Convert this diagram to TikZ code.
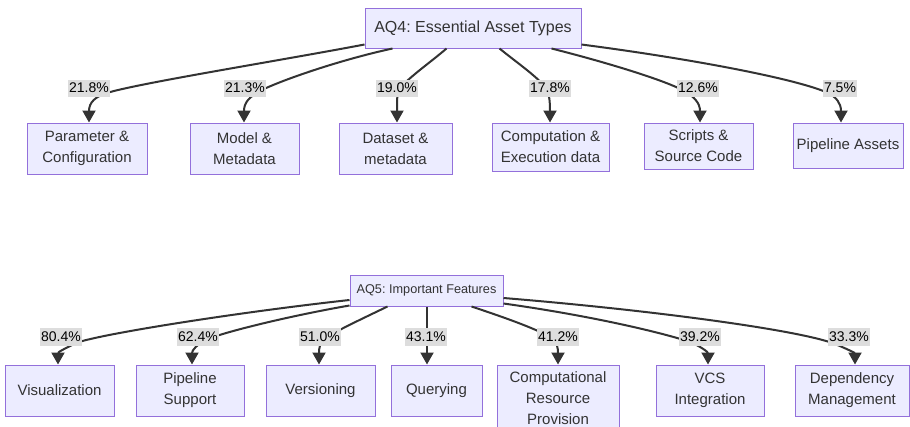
\documentclass[tikz,border=0pt]{standalone}
\usepackage{fontspec}
\setmainfont{Liberation Sans}
\frenchspacing
\usetikzlibrary{arrows.meta,calc}
\definecolor{nodefill}{HTML}{ECECFF}
\definecolor{nodeline}{HTML}{9370DB}
\definecolor{txt}{HTML}{333333}
\definecolor{edgec}{HTML}{333333}
\definecolor{labfill}{HTML}{DDDDDD}
\tikzset{
  box/.style={draw=nodeline, fill=nodefill, line width=1pt, text=txt, align=center,
    font=\fontsize{15}{21}\selectfont, inner sep=0pt},
  edge/.style={draw=edgec, line width=2pt, -{Triangle[length=12pt,width=13pt]}},
  lab/.style={fill=labfill, text=black, font=\fontsize{14}{16}\selectfont,
    inner xsep=1pt, inner ysep=0pt, minimum height=17pt}
}
\begin{document}
\begin{tikzpicture}[x=1pt,y=-1pt]
\clip (0,0) rectangle (910,426);
\fill[white] (0,0) rectangle (910,426);
% ---------- AQ4 ----------
\node[box, minimum width=216pt, minimum height=40pt, font=\fontsize{16}{20}\selectfont] (r4) at (473,28) {AQ4: Essential Asset Types};
\node[box, minimum width=120pt, minimum height=51pt] (p1) at (87,148.5) {Parameter \&\\Configuration};
\node[box, minimum width=109pt, minimum height=51pt] (p2) at (244.5,148.5) {Model \&\\Metadata};
\node[box, minimum width=113pt, minimum height=51pt] (p3) at (395.5,148.5) {Dataset \&\\metadata};
\node[box, minimum width=117pt, minimum height=48pt] (p4) at (550.5,147) {Computation \&\\Execution data};
\node[box, minimum width=109pt, minimum height=46pt] (p5) at (698.5,146) {Scripts \&\\Source Code};
\node[box, minimum width=110pt, minimum height=45pt] (p6) at (848,145.5) {Pipeline Assets};

\draw[edge] ($(r4.south west)+(0,-4)$) .. controls (278,61) and (127,85) .. (104,94)
  .. controls (96,97) and (89,102) .. (p1.north -| 89,0);
\draw[edge] ($(r4.south west)+(28,0)$) .. controls (335,61) and (274,83) .. (258,92)
  .. controls (250,97) and (244,102) .. (p2.north -| 244,0);
\draw[edge] ($(r4.south west)+(82,0)$) .. controls (431,62) and (405,80) .. (399,90)
  .. controls (397,94) and (397,100) .. (p3.north -| 397,0);
\draw[edge] ($(r4.south west)+(135,0)$) .. controls (516,62) and (542,80) .. (547,90)
  .. controls (549,95) and (550,100) .. (p4.north -| 550,0);
\draw[edge] ($(r4.south west)+(187,0)$) .. controls (605,62) and (668,81) .. (686,92)
  .. controls (694,97) and (700,103) .. (p5.north -| 700,0);
\draw[edge] ($(r4.south east)+(0,-4)$) .. controls (700,60) and (800,80) .. (828,93)
  .. controls (836,97) and (841,103) .. (p6.north -| 841,0);

\node[lab] (l1) at (89,88) {21.8\%};
\node[lab] (l2) at (245,88) {21.3\%};
\node[lab] (l3) at (397,88) {19.0\%};
\node[lab] (l4) at (550,88) {17.8\%};
\node[lab] (l5) at (698,88) {12.6\%};
\node[lab] (l6) at (840,88) {7.5\%};

% ---------- AQ5 ----------
\node[box, minimum width=153pt, minimum height=31pt, font=\fontsize{12.7}{15}\selectfont] (r5) at (426.5,290.5) {AQ5: Important Features};
\node[box, minimum width=109pt, minimum height=51pt] (q1) at (59.5,390.5) {Visualization};
\node[box, minimum width=108pt, minimum height=51pt] (q2) at (190,390.5) {Pipeline\\Support};
\node[box, minimum width=109pt, minimum height=51pt] (q3) at (320.5,390.5) {Versioning};
\node[box, minimum width=91pt, minimum height=51pt] (q4) at (436.5,390.5) {Querying};
\node[box, minimum width=122pt, minimum height=66pt] (q5) at (558,398) {Computational\\Resource\\Provision};
\node[box, minimum width=108pt, minimum height=51pt] (q6) at (710,390.5) {VCS\\Integration};
\node[box, minimum width=114pt, minimum height=51pt] (q7) at (852,390.5) {Dependency\\Management};

\draw[edge] ($(r5.west)+(0,9.5)$) .. controls (240,312) and (100,334) .. (76,343)
  .. controls (66,348) and (58,352) .. (q1.north -| 58,0);
\draw[edge] ($(r5.south west)+(0,-1)$) .. controls (300,314) and (230,330) .. (205,340)
  .. controls (197,345) and (192,350) .. (q2.north -| 192,0);
\draw[edge] ($(r5.south west)+(38,0)$) .. controls (370,315) and (342,328) .. (325,338)
  .. controls (320,342) and (319,348) .. (q3.north -| 319,0);
\draw[edge] (r5.south -| 427,0) -- (q4.north -| 427,0);
\draw[edge] ($(r5.south west)+(122,0)$) .. controls (500,316) and (535,328) .. (552,338)
  .. controls (557,342) and (558,348) .. (q5.north -| 558,0);
\draw[edge] ($(r5.south east)+(0,-3)$) .. controls (600,317) and (670,335) .. (690,342)
  .. controls (700,346) and (708,352) .. (q6.north -| 708,0);
\draw[edge] ($(r5.east)+(0,7.5)$) .. controls (650,310) and (800,330) .. (835,344)
  .. controls (845,348) and (855,353) .. (q7.north -| 855,0);

\node[lab, minimum height=18pt] (m1) at (61,337) {80.4\%};
\node[lab, minimum height=18pt] (m2) at (198,337) {62.4\%};
\node[lab, minimum height=18pt] (m3) at (320,337) {51.0\%};
\node[lab, minimum height=18pt] (m4) at (426,337) {43.1\%};
\node[lab, minimum height=18pt] (m5) at (558,337) {41.2\%};
\node[lab, minimum height=18pt] (m6) at (700,337) {39.2\%};
\node[lab, minimum height=18pt] (m7) at (849,337) {33.3\%};
\end{tikzpicture}
\end{document}
